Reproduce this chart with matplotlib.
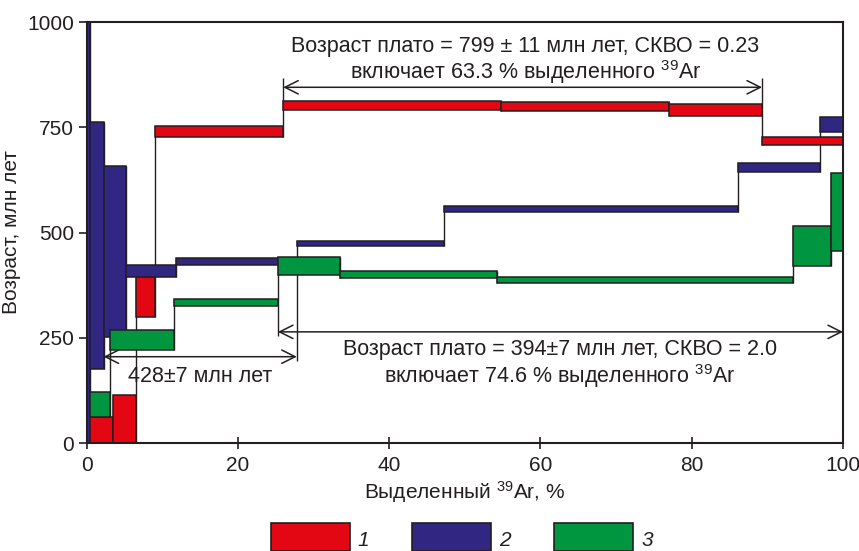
import matplotlib
matplotlib.use('Agg')
import matplotlib.pyplot as plt
from matplotlib.patches import Rectangle

plt.rcParams['font.family'] = ['Liberation Sans', 'DejaVu Sans']
plt.rcParams['mathtext.fontset'] = 'custom'
plt.rcParams['mathtext.rm'] = 'Liberation Sans'
plt.rcParams['mathtext.it'] = 'Liberation Sans:italic'

# границы ступеней (кумулятивный % 39Ar) и интервалы возраста (млн лет)
edges_1 = [0.37, 3.46, 6.6, 9.05, 26.0, 54.8, 77.0, 89.3, 100]
lo_1 = [0, 0, 299, 727, 791, 789, 777, 707]
hi_1 = [62, 114, 394, 753, 813, 811, 805, 727]

edges_2 = [0, 0.4, 2.25, 5.18, 11.8, 27.8, 47.2, 86.1, 96.9, 100]
lo_2 = [0, 175, 252, 394, 424, 468, 548, 644, 738]
hi_2 = [1100, 763, 659, 424, 439, 480, 563, 664, 774]

edges_3 = [0.4, 3.17, 11.6, 25.3, 33.5, 54.3, 93.4, 98.4, 100]
lo_3 = [62, 222, 325, 399, 391, 379, 421, 456]
hi_3 = [120, 268, 342, 442, 408, 395, 515, 641]

colors = ['#e30613', '#312783', '#009640']
labels = ['1', '2', '3']
edge = '#231f20'
fs = 15
fa = 15.5

fig = plt.figure(figsize=(8.59, 5.51), dpi=100)
ax = fig.add_axes([0.1007, 0.196, 0.8807, 0.764])

samples = [(edges_1, lo_1, hi_1), (edges_2, lo_2, hi_2), (edges_3, lo_3, hi_3)]
for (e, lo, hi), c in zip(samples, colors):
    w = [e[i + 1] - e[i] for i in range(len(lo))]
    h = [hi[i] - lo[i] for i in range(len(lo))]
    ax.bar(e[:-1], h, width=w, bottom=lo, align='edge', color=c,
           edgecolor=edge, linewidth=1.1, zorder=3)
    # соединительные линии между ступенями
    for i in range(len(lo) - 1):
        ax.vlines(e[i + 1], min(lo[i], lo[i + 1]), max(hi[i], hi[i + 1]),
                  color=edge, linewidth=1.0, zorder=2)

arr = dict(arrowstyle='<->', color=edge, lw=1.1,
           mutation_scale=24, shrinkA=0, shrinkB=0)

# плато образца 1
ax.annotate('', xy=(26.0, 845), xytext=(89.3, 845), arrowprops=arr, zorder=4)
ax.vlines([26.0, 89.3], [813, 805], 867, color=edge, linewidth=1.0, zorder=2)
ax.text(58.0, 942, 'Возраст плато = 799 ± 11 млн лет, СКВО = 0.23',
        ha='center', va='center', fontsize=fa, color=edge)
ax.text(58.0, 882, r'включает 63.3 % выделенного $^{39}$Ar',
        ha='center', va='center', fontsize=fa, color=edge)

# плато образца 3
ax.annotate('', xy=(25.3, 264), xytext=(100, 264), arrowprops=arr, zorder=4)
ax.vlines(25.3, 255, 325, color=edge, linewidth=1.0, zorder=2)
ax.text(62.6, 221, 'Возраст плато = 394±7 млн лет, СКВО = 2.0',
        ha='center', va='center', fontsize=fa, color=edge)
ax.text(62.6, 160, r'включает 74.6 % выделенного $^{39}$Ar',
        ha='center', va='center', fontsize=fa, color=edge)

# образец 2
ax.annotate('', xy=(2.25, 205), xytext=(27.8, 205), arrowprops=arr, zorder=4)
ax.vlines(27.8, 195, 424, color=edge, linewidth=1.0, zorder=2)
ax.text(15.0, 158, '428±7 млн лет', ha='center', va='center',
        fontsize=fa, color=edge)

ax.set_xlim(0, 100)
ax.set_ylim(0, 1000)
ax.set_xticks([0, 20, 40, 60, 80, 100])
ax.set_yticks([0, 250, 500, 750, 1000])
ax.tick_params(axis='x', direction='inout', length=9, width=1.2,
               labelsize=fs, pad=5, colors=edge)
ax.tick_params(axis='y', direction='out', length=6, width=1.2,
               labelsize=fs, pad=3, colors=edge)
for s in ax.spines.values():
    s.set_linewidth(1.5)
    s.set_color(edge)
    s.set_zorder(5)
ax.set_xlabel(r'Выделенный $^{39}$Ar, %', fontsize=fs, labelpad=3, color=edge)
ax.set_ylabel('Возраст, млн лет', fontsize=fs, color=edge)
ax.yaxis.set_label_coords(-0.086, 0.5)

# легенда
lx = [270.5, 412.3, 554.0]
for x, c, l in zip(lx, colors, labels):
    fig.patches.append(Rectangle((x / 859, 0.0), 79 / 859, 28.5 / 551,
                                 transform=fig.transFigure, facecolor=c,
                                 edgecolor=edge, linewidth=1.2))
    fig.text((x + 93) / 859, 11 / 551, l, fontsize=fs, style='italic',
             ha='center', va='center', color=edge)

fig.savefig('out.png', dpi=100)
